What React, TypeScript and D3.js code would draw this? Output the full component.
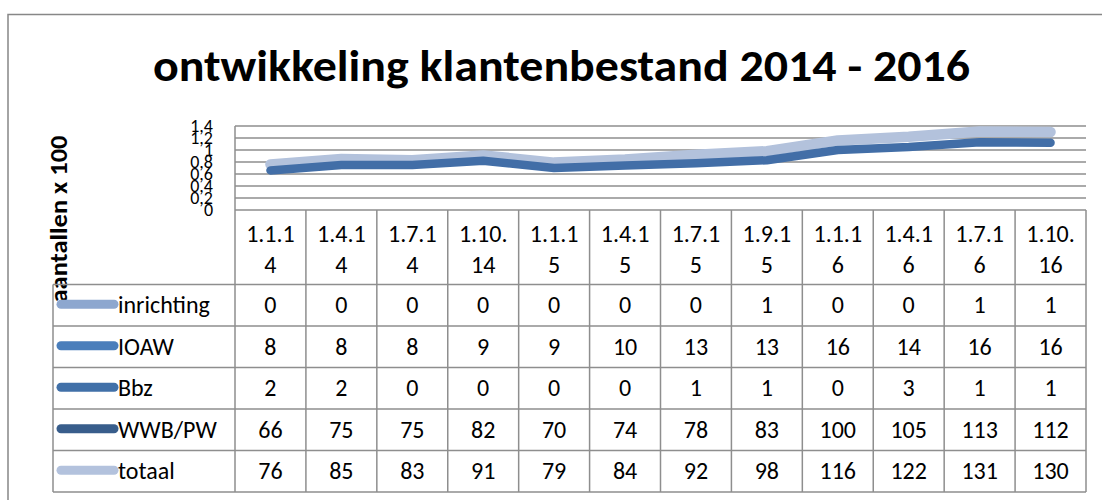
import React from "react";
import * as d3 from "d3";

const dates = [
  "1.1.14", "1.4.14", "1.7.14", "1.10.14", "1.1.15", "1.4.15",
  "1.7.15", "1.9.15", "1.1.16", "1.4.16", "1.7.16", "1.10.16",
];

const seriesNames = ["inrichting", "IOAW", "Bbz", "WWB/PW", "totaal"];

const inrichting = [0, 0, 0, 0, 0, 0, 0, 1, 0, 0, 1, 1];
const ioaw = [8, 8, 8, 9, 9, 10, 13, 13, 16, 14, 16, 16];
const bbz = [2, 2, 0, 0, 0, 0, 1, 1, 0, 3, 1, 1];
const wwb = [66, 75, 75, 82, 70, 74, 78, 83, 100, 105, 113, 112];
const totaal = [76, 85, 83, 91, 79, 84, 92, 98, 116, 122, 131, 130];

const yTicks = [0, 0.2, 0.4, 0.6, 0.8, 1, 1.2, 1.4];

// only these two show up as lines in the plot
const plotted = ["totaal", "WWB/PW"];

const keyColors: Record<string, string> = {
  inrichting: "#8da7cf",
  IOAW: "#4a7ebb",
  Bbz: "#4170a8",
  "WWB/PW": "#385d8b",
  totaal: "#b3c2dd",
};
const lineColors: Record<string, string> = {
  "WWB/PW": "#426ea7",
  totaal: "#b3c2dc",
};
const lineWidths: Record<string, number> = { "WWB/PW": 8.5, totaal: 10.5 };

const FONT = "Carlito, 'Open Sans', sans-serif";
const GRID = "#8e8e8e";

export default function App() {
  const width = 1102;
  const height = 500;
  const left = 235;
  const right = 1086;
  const plotTop = 126;
  const plotBottom = 210;
  const headerBottom = 284.5;
  const tableBottom = 492;
  const legendLeft = 53;

  const values: Record<string, number[]> = {
    inrichting,
    IOAW: ioaw,
    Bbz: bbz,
    "WWB/PW": wwb,
    totaal,
  };

  const x = d3.scaleBand<string>().domain(dates).range([left, right]);
  const y = d3.scaleLinear().domain([0, 1.4]).range([plotBottom, plotTop]);
  const rowH = (tableBottom - headerBottom) / seriesNames.length;

  const line = d3
    .line<number>()
    .x((_, i) => (x(dates[i]) ?? 0) + x.bandwidth() / 2)
    .y((v) => y(v / 100));

  const fmt = (v: number) => String(v).replace(".", ",");

  return (
    <svg
      width={width}
      height={height}
      style={{ position: "fixed", left: 0, top: 0, background: "#fff" }}
      fontFamily={FONT}
    >
      <rect x={8} y={14.5} width={1200} height={600} fill="#fff" stroke="#878787" strokeWidth={1.5} />

      <text
        x={561.5}
        y={81}
        textAnchor="middle"
        fontSize={44}
        fontWeight="bold"
        textLength={817}
        lengthAdjust="spacingAndGlyphs"
      >
        ontwikkeling klantenbestand 2014 - 2016
      </text>

      <text
        transform="translate(67,219) rotate(-90)"
        textAnchor="middle"
        fontSize={24}
        fontWeight="bold"
        textLength={167}
        lengthAdjust="spacingAndGlyphs"
      >
        aantallen x 100
      </text>

      {/* gridlines */}
      {yTicks.map((t) => (
        <g key={t}>
          <line x1={left} x2={right} y1={y(t)} y2={y(t)} stroke={GRID} strokeWidth={1.5} />
          <text x={213} y={y(t)} dy="0.36em" textAnchor="end" fontSize={18}>
            {fmt(t)}
          </text>
        </g>
      ))}
      <line x1={left} x2={left} y1={plotTop} y2={plotBottom} stroke={GRID} strokeWidth={1.5} />

      {/* lines */}
      {plotted.map((name) => (
        <path
          key={name}
          d={line(values[name]) ?? ""}
          fill="none"
          stroke={lineColors[name]}
          strokeWidth={lineWidths[name]}
          strokeLinecap="round"
          strokeLinejoin="round"
        />
      ))}

      {/* table grid */}
      <line x1={legendLeft} x2={right} y1={headerBottom} y2={headerBottom} stroke={GRID} strokeWidth={1.5} />
      {seriesNames.map((_, i) => (
        <line
          key={i}
          x1={legendLeft}
          x2={right}
          y1={headerBottom + rowH * (i + 1)}
          y2={headerBottom + rowH * (i + 1)}
          stroke={GRID}
          strokeWidth={1.5}
        />
      ))}
      <line x1={legendLeft} x2={legendLeft} y1={headerBottom} y2={tableBottom} stroke={GRID} strokeWidth={1.5} />
      {dates.map((d) => (
        <line
          key={d}
          x1={x(d)}
          x2={x(d)}
          y1={plotBottom}
          y2={tableBottom}
          stroke={GRID}
          strokeWidth={1.5}
        />
      ))}
      <line x1={right} x2={right} y1={plotBottom} y2={tableBottom} stroke={GRID} strokeWidth={1.5} />

      {/* header */}
      {dates.map((d) => {
        const cx = (x(d) ?? 0) + x.bandwidth() / 2;
        return (
          <text key={d} x={cx} textAnchor="middle" fontSize={24}>
            <tspan x={cx} y={242}>{d.slice(0, 5)}</tspan>
            <tspan x={cx} y={273}>{d.slice(5)}</tspan>
          </text>
        );
      })}

      {/* rows */}
      {seriesNames.map((name, i) => {
        const cy = headerBottom + rowH * (i + 0.5);
        return (
          <g key={name}>
            <line
              x1={61}
              x2={114}
              y1={cy - 1}
              y2={cy - 1}
              stroke={keyColors[name]}
              strokeWidth={9}
              strokeLinecap="round"
            />
            <text x={118} y={cy + 8} fontSize={24}>
              {name}
            </text>
            {values[name].map((v, j) => (
              <text
                key={j}
                x={(x(dates[j]) ?? 0) + x.bandwidth() / 2}
                y={cy + 8}
                textAnchor="middle"
                fontSize={24}
              >
                {v}
              </text>
            ))}
          </g>
        );
      })}
    </svg>
  );
}
